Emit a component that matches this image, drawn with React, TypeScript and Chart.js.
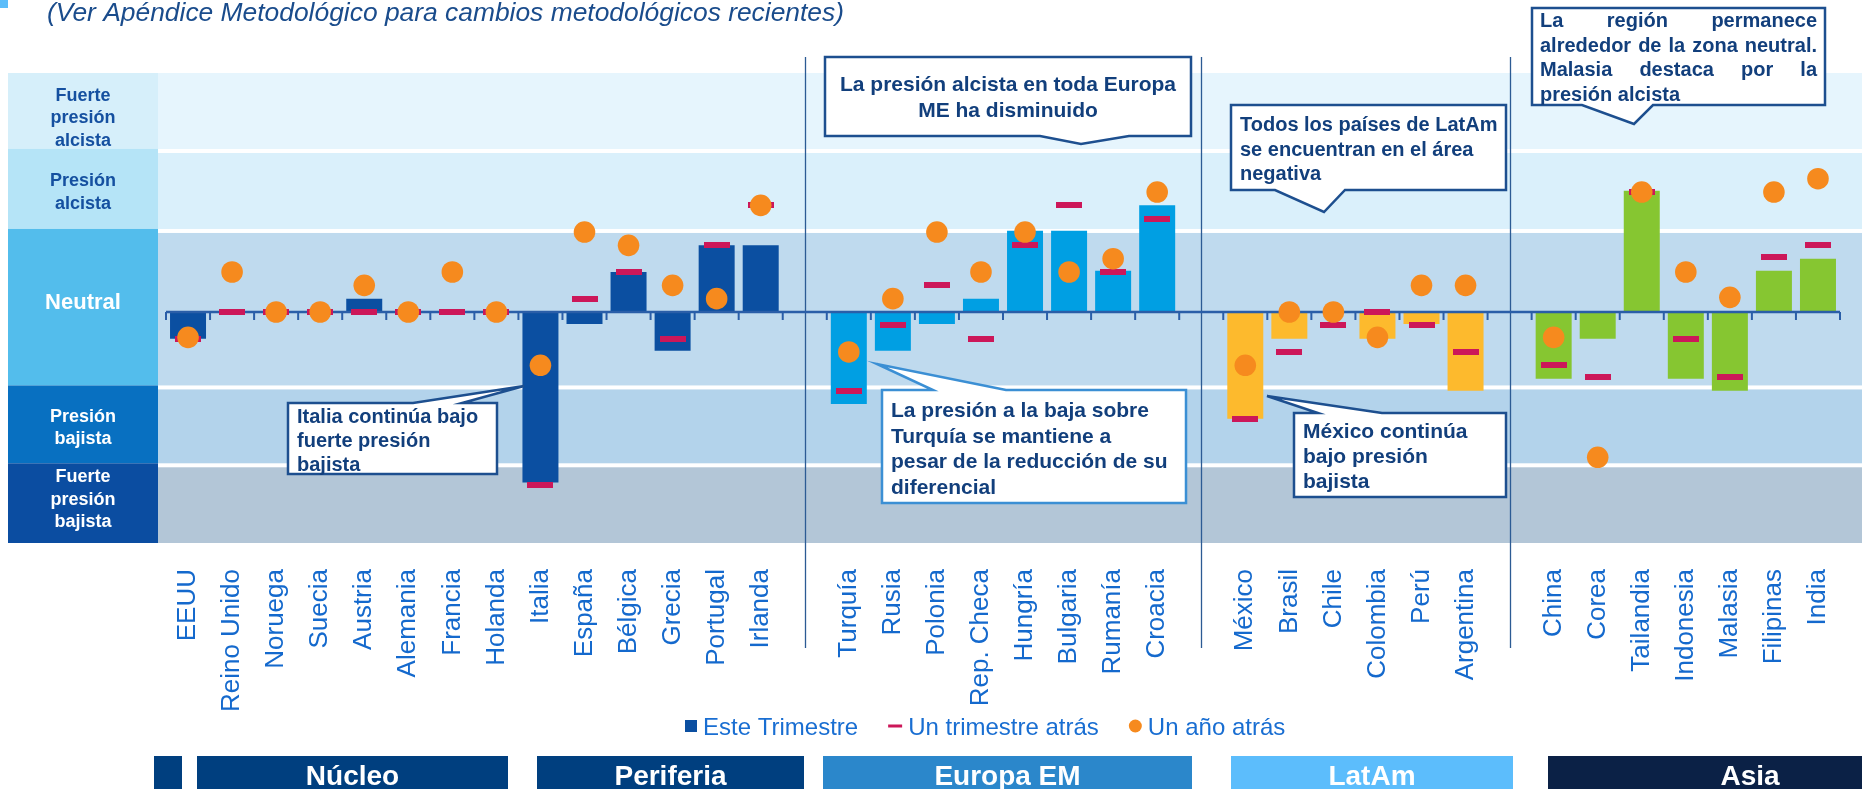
import React, { useEffect, useRef } from 'react';
import { Chart, registerables } from 'chart.js';

Chart.register(...registerables);

// ---------------- DATA ----------------
const nucleo = ['EEUU', 'Reino Unido', 'Noruega', 'Suecia', 'Austria', 'Alemania', 'Francia', 'Holanda'];
const periferia = ['Italia', 'España', 'Bélgica', 'Grecia', 'Portugal', 'Irlanda'];
const europaEM = ['Turquía', 'Rusia', 'Polonia', 'Rep. Checa', 'Hungría', 'Bulgaria', 'Rumanía', 'Croacia'];
const latam = ['México', 'Brasil', 'Chile', 'Colombia', 'Perú', 'Argentina'];
const asia = ['China', 'Corea', 'Tailandia', 'Indonesia', 'Malasia', 'Filipinas', 'India'];

const categories = [...nucleo, ...periferia, '', ...europaEM, '', ...latam, '', ...asia];

const esteTrimestre = [
  -2, 0, 0, 0, 1, 0, 0, 0,
  -12.8, -0.9, 3, -2.9, 5, 5,
  null,
  -6.9, -2.9, -0.9, 1, 6.1, 6.1, 3.1, 8,
  null,
  -8, -2, 0, -2, -0.9, -5.9,
  null,
  -5, -2, 9.1, -5, -5.9, 3.1, 4,
];

const unTrimestreAtras = [
  -2, 0, 0, 0, 0, 0, 0, 0,
  -13, 1, 3, -2, 5, 8,
  null,
  -5.9, -1, 2, -2, 5, 8, 3, 7,
  null,
  -8, -3, -1, 0, -1, -3,
  null,
  -4, -4.9, 9, -2, -4.9, 4.1, 5,
];

const unAnoAtras = [
  -1.9, 3, 0, 0, 2, 0, 3, 0,
  -4, 6, 5, 2, 1, 8,
  null,
  -3, 1, 6, 3, 6, 3, 4, 9,
  null,
  -4, 0, 0, -1.9, 2, 2,
  null,
  -1.9, -10.9, 9, 3, 1.1, 9, 10,
];

const seriesNames = ['Este Trimestre', 'Un trimestre atrás', 'Un año atrás'];
const groupNames = ['Núcleo', 'Periferia', 'Europa EM', 'LatAm', 'Asia'];
const bandNames = [
  ['Fuerte', 'presión', 'alcista'],
  ['Presión', 'alcista'],
  ['Neutral'],
  ['Presión', 'bajista'],
  ['Fuerte', 'presión', 'bajista'],
];
// band limits on the value axis
const bandEdges = [17.93, 12.08, 6.08, -5.66, -11.5, -17.33];

// ---------------- STYLE ----------------
const FONT = "'Liberation Sans', Arial, Helvetica, sans-serif";
const RED = '#cc1759';
const ORANGE = '#f68a1e';
const LABEL_BLUE = '#1469cd';
const NAVY_TEXT = '#123f7c';
const barGroupColors = ['#0b4fa1', '#0b4fa1', '#009fe3', '#fdba2d', '#86c631'];
const bandPlotColors = ['#e6f5fd', '#daf0fb', '#bfdaee', '#b3d3eb', '#b3c6d7'];
const bandColColors = ['#d6effa', '#b5e4f7', '#53bdec', '#0870c1', '#0b4da1'];
const bandTextColors = ['#1550a0', '#1550a0', '#ffffff', '#ffffff', '#ffffff'];
const bandTextSize = [18, 18, 22, 18, 18];
const bandTextShift = [5, 0, -8, 0, -6];

const groupSizes = [nucleo.length, periferia.length, europaEM.length, latam.length, asia.length];
const barColors: string[] = [];
{
  const groupOfIdx: number[] = [];
  // núcleo + periferia share a block, then a gap between regions
  const blocks = [[0, 1], [2], [3], [4]];
  blocks.forEach((blk, bi) => {
    blk.forEach((gi) => {
      for (let k = 0; k < groupSizes[gi]; k++) groupOfIdx.push(gi);
    });
    if (bi < blocks.length - 1) groupOfIdx.push(-1);
  });
  groupOfIdx.forEach((gi) => barColors.push(gi >= 0 ? barGroupColors[gi] : 'rgba(0,0,0,0)'));
}

type Callout = {
  x0: number; y0: number; x1: number; y1: number;
  side: 'top' | 'bottom';
  base: [number, number];
  tip: [number, number];
  lines: string[];
  size: number;
  baseline: number;
  lh: number;
  tx: number;
  align: 'left' | 'center' | 'justify';
  width?: number;
  border: string;
};

const callouts: Callout[] = [
  {
    x0: 288, y0: 403, x1: 497, y1: 474, side: 'top', base: [413, 462], tip: [524, 386],
    lines: ['Italia continúa bajo', 'fuerte presión', 'bajista'],
    size: 20, baseline: 422.5, lh: 24, tx: 297, align: 'left', border: '#1d4f8f',
  },
  {
    x0: 825, y0: 57, x1: 1191, y1: 136, side: 'bottom', base: [1040, 1129], tip: [1081, 144],
    lines: ['La presión alcista en toda Europa', 'ME ha disminuido'],
    size: 21, baseline: 91, lh: 26, tx: 1008, align: 'center', border: '#1d4f8f',
  },
  {
    x0: 1231, y0: 105, x1: 1506, y1: 190, side: 'bottom', base: [1275, 1345], tip: [1324, 212],
    lines: ['Todos los países de LatAm', 'se encuentran en el área', 'negativa'],
    size: 20, baseline: 131, lh: 24.5, tx: 1240, align: 'left', border: '#1d4f8f',
  },
  {
    x0: 882, y0: 390, x1: 1186, y1: 503, side: 'top', base: [933, 1006], tip: [877, 364],
    lines: ['La presión a la baja sobre', 'Turquía se mantiene a', 'pesar de la reducción de su', 'diferencial'],
    size: 21, baseline: 417, lh: 25.5, tx: 891, align: 'left', border: '#3b8fd4',
  },
  {
    x0: 1294, y0: 413, x1: 1506, y1: 497, side: 'top', base: [1318, 1382], tip: [1267, 396],
    lines: ['México continúa', 'bajo presión', 'bajista'],
    size: 21, baseline: 438, lh: 25, tx: 1303, align: 'left', border: '#1d4f8f',
  },
  {
    x0: 1532, y0: 8, x1: 1825, y1: 105, side: 'bottom', base: [1582, 1653], tip: [1634, 124],
    lines: ['La región permanece', 'alrededor de la zona neutral.', 'Malasia destaca por la', 'presión alcista'],
    size: 20, baseline: 27, lh: 24.6, tx: 1540, align: 'justify', width: 277, border: '#1d4f8f',
  },
];

const headerBoxes = [
  { x0: 154, x1: 182, color: '#003f7f', name: '' },
  { x0: 197, x1: 508, color: '#003f7f', name: groupNames[0] },
  { x0: 537, x1: 804, color: '#003f7f', name: groupNames[1] },
  { x0: 823, x1: 1192, color: '#2b87cb', name: groupNames[2] },
  { x0: 1231, x1: 1513, color: '#5cbdfc', name: groupNames[3] },
  { x0: 1548, x1: 1952, color: '#0b2146', name: groupNames[4] },
];

function drawCallout(ctx: CanvasRenderingContext2D, c: Callout) {
  ctx.save();
  ctx.beginPath();
  if (c.side === 'top') {
    ctx.moveTo(c.x0, c.y0);
    ctx.lineTo(c.base[0], c.y0);
    ctx.lineTo(c.tip[0], c.tip[1]);
    ctx.lineTo(c.base[1], c.y0);
    ctx.lineTo(c.x1, c.y0);
    ctx.lineTo(c.x1, c.y1);
    ctx.lineTo(c.x0, c.y1);
  } else {
    ctx.moveTo(c.x0, c.y0);
    ctx.lineTo(c.x1, c.y0);
    ctx.lineTo(c.x1, c.y1);
    ctx.lineTo(c.base[1], c.y1);
    ctx.lineTo(c.tip[0], c.tip[1]);
    ctx.lineTo(c.base[0], c.y1);
    ctx.lineTo(c.x0, c.y1);
  }
  ctx.closePath();
  ctx.fillStyle = '#ffffff';
  ctx.fill();
  ctx.lineWidth = 2.5;
  ctx.lineJoin = 'miter';
  ctx.strokeStyle = c.border;
  ctx.stroke();

  ctx.fillStyle = NAVY_TEXT;
  ctx.font = `bold ${c.size}px ${FONT}`;
  ctx.textBaseline = 'alphabetic';
  c.lines.forEach((line, i) => {
    const y = c.baseline + i * c.lh;
    if (c.align === 'center') {
      ctx.textAlign = 'center';
      ctx.fillText(line, c.tx, y);
    } else if (c.align === 'justify' && i < c.lines.length - 1) {
      ctx.textAlign = 'left';
      const words = line.split(' ');
      const total = words.reduce((s, w) => s + ctx.measureText(w).width, 0);
      const gap = words.length > 1 ? ((c.width || 0) - total) / (words.length - 1) : 0;
      let cx = c.tx;
      words.forEach((w) => {
        ctx.fillText(w, cx, y);
        cx += ctx.measureText(w).width + gap;
      });
    } else {
      ctx.textAlign = 'left';
      ctx.fillText(line, c.tx, y);
    }
  });
  ctx.restore();
}

const decorPlugin = {
  id: 'decor',
  beforeDraw(chart: any) {
    const { ctx, chartArea, scales } = chart;
    const y = scales.y;
    const x = scales.x;
    ctx.save();
    ctx.fillStyle = '#ffffff';
    ctx.fillRect(0, 0, chart.width, chart.height);

    const plotLeft = chartArea.left - 8;
    const plotRight = chart.width;
    const colLeft = 8;
    for (let i = 0; i < 5; i++) {
      const top = y.getPixelForValue(bandEdges[i]);
      const bot = y.getPixelForValue(bandEdges[i + 1]);
      ctx.fillStyle = bandPlotColors[i];
      ctx.fillRect(plotLeft, top, plotRight - plotLeft, bot - top);
      const ct = i === 0 ? top : top - 2;
      const cb = i === 4 ? bot : bot - 2;
      ctx.fillStyle = bandColColors[i];
      ctx.fillRect(colLeft, ct, plotLeft - colLeft, cb - ct);
    }
    ctx.fillStyle = '#ffffff';
    for (let i = 1; i < 5; i++) {
      const p = y.getPixelForValue(bandEdges[i]);
      ctx.fillRect(plotLeft, p - 2, plotRight - plotLeft, 4);
    }
    // band labels
    const cx = (colLeft + plotLeft) / 2;
    ctx.textAlign = 'center';
    ctx.textBaseline = 'alphabetic';
    for (let i = 0; i < 5; i++) {
      const top = y.getPixelForValue(bandEdges[i]);
      const bot = y.getPixelForValue(bandEdges[i + 1]);
      const vc = (top + bot) / 2 + bandTextShift[i];
      const size = bandTextSize[i];
      const lh = 22.5;
      const lines = bandNames[i];
      ctx.font = `bold ${size}px ${FONT}`;
      ctx.fillStyle = bandTextColors[i];
      const first = vc - ((lines.length - 1) * lh) / 2 + (0.716 * size) / 2;
      lines.forEach((l, k) => ctx.fillText(l, cx, first + k * lh));
    }
    // separators between regions
    ctx.strokeStyle = '#2c5b94';
    ctx.lineWidth = 1.3;
    categories.forEach((c, i) => {
      if (c !== '') return;
      const px = Math.round(x.getPixelForValue(i)) + 0.5;
      ctx.beginPath();
      ctx.moveTo(px, chartArea.top - 16);
      ctx.lineTo(px, 648);
      ctx.stroke();
    });
    // title and small square
    ctx.fillStyle = '#5cbdfa';
    ctx.fillRect(0, 0, 8, 8);
    ctx.fillStyle = '#1a4c8c';
    ctx.font = `italic 26.4px ${FONT}`;
    ctx.textAlign = 'left';
    ctx.fillText('(Ver Apéndice Metodológico para cambios metodológicos recientes)', 47, 21);
    ctx.restore();
  },
  afterDatasetDraw(chart: any, args: any) {
    if (args.index !== 0) return;
    const { ctx, chartArea, scales } = chart;
    const y0 = scales.y.getPixelForValue(0);
    const n = categories.length;
    const w = (chartArea.right - chartArea.left) / n;
    ctx.save();
    ctx.strokeStyle = '#2a5ea8';
    ctx.lineWidth = 2;
    for (let i = 0; i <= n; i++) {
      const px = i < n ? scales.x.getPixelForValue(i) - w / 2 : scales.x.getPixelForValue(n - 1) + w / 2;
      ctx.beginPath();
      ctx.moveTo(px, y0);
      ctx.lineTo(px, y0 + 8);
      ctx.stroke();
    }
    ctx.lineWidth = 2.5;
    ctx.beginPath();
    ctx.moveTo(chartArea.left, y0);
    ctx.lineTo(chartArea.right, y0);
    ctx.stroke();
    ctx.restore();
  },
  afterDraw(chart: any) {
    const { ctx } = chart;
    ctx.save();
    callouts.forEach((c) => drawCallout(ctx, c));

    // legend
    const ds = chart.data.datasets;
    ctx.font = `24px ${FONT}`;
    ctx.textBaseline = 'alphabetic';
    ctx.textAlign = 'left';
    let lx = 685;
    const ly = 726;
    const markerW = [12, 14, 13];
    ds.forEach((d: any, i: number) => {
      if (i === 0) {
        ctx.fillStyle = barGroupColors[0];
        ctx.fillRect(lx, ly - 6, 12, 12);
      } else if (i === 1) {
        ctx.fillStyle = RED;
        ctx.fillRect(lx, ly - 1.5, 14, 3);
      } else {
        ctx.fillStyle = ORANGE;
        ctx.beginPath();
        ctx.arc(lx + 6.5, ly, 6.5, 0, Math.PI * 2);
        ctx.fill();
      }
      const tx = lx + markerW[i] + 6;
      ctx.fillStyle = '#196ed2';
      ctx.fillText(d.label, tx, 735);
      lx = tx + ctx.measureText(d.label).width + 30;
    });

    // region header boxes
    headerBoxes.forEach((b) => {
      ctx.fillStyle = b.color;
      ctx.fillRect(b.x0, 756, b.x1 - b.x0, 40);
      if (b.name) {
        ctx.fillStyle = '#ffffff';
        ctx.font = `bold 28px ${FONT}`;
        ctx.textAlign = 'center';
        ctx.fillText(b.name, (b.x0 + b.x1) / 2, 785);
      }
    });
    ctx.restore();
  },
};

export default function App() {
  const ref = useRef<HTMLCanvasElement>(null);
  useEffect(() => {
    const canvas = ref.current;
    if (!canvas) return;
    const dash = document.createElement('canvas');
    dash.width = 26;
    dash.height = 6;
    const dctx = dash.getContext('2d');
    if (dctx) {
      dctx.fillStyle = RED;
      dctx.fillRect(0, 0, 26, 6);
    }
    const chart = new Chart(canvas, {
      type: 'bar',
      data: {
        labels: categories,
        datasets: [
          {
            type: 'bar',
            label: seriesNames[0],
            data: esteTrimestre,
            backgroundColor: barColors,
            borderWidth: 0,
            barPercentage: 0.817,
            categoryPercentage: 1,
            order: 2,
          } as any,
          {
            type: 'line',
            label: seriesNames[1],
            data: unTrimestreAtras,
            showLine: false,
            pointStyle: dash,
            pointRadius: 3,
            pointHoverRadius: 3,
            pointBorderWidth: 0,
            backgroundColor: RED,
            borderColor: RED,
            order: 1,
          } as any,
          {
            type: 'line',
            label: seriesNames[2],
            data: unAnoAtras,
            showLine: false,
            pointStyle: 'circle',
            pointRadius: 10.8,
            pointHoverRadius: 10.8,
            pointBorderWidth: 0,
            pointBackgroundColor: ORANGE,
            backgroundColor: ORANGE,
            borderColor: ORANGE,
            order: 0,
          } as any,
        ],
      },
      options: {
        animation: false,
        responsive: false,
        devicePixelRatio: 1,
        events: [],
        layout: { padding: { left: 166, right: 22, top: 73, bottom: 0 } },
        plugins: {
          legend: { display: false },
          tooltip: { enabled: false },
          title: { display: false },
        },
        scales: {
          x: {
            type: 'category',
            offset: true,
            grid: { display: false, drawTicks: false },
            border: { display: false },
            ticks: {
              autoSkip: false,
              maxRotation: 90,
              minRotation: 90,
              padding: 26,
              color: LABEL_BLUE,
              font: { family: FONT, size: 26 },
            },
            afterFit: (s: any) => {
              s.height = 246;
              s.paddingLeft = 0;
              s.paddingRight = 0;
            },
          },
          y: {
            type: 'linear',
            display: false,
            min: bandEdges[5],
            max: bandEdges[0],
          },
        },
      } as any,
      plugins: [decorPlugin],
    });
    return () => chart.destroy();
  }, []);
  return (
    <div style={{ position: 'absolute', left: 0, top: 0, width: 1862, height: 789, background: '#fff' }}>
      <canvas ref={ref} width={1862} height={789} style={{ display: 'block', width: 1862, height: 789 }} />
    </div>
  );
}
